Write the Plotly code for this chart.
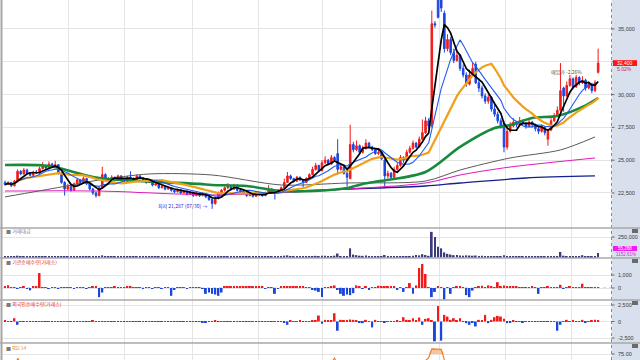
import plotly.graph_objects as go
import pandas as pd
import numpy as np

# ---------------- data ----------------
opens = [
 23300,23150,23300,23050,23350,24150,23950,24250,24000,23850,
 24100,24000,24350,24550,24400,24700,24500,24650,24000,23300,
 22800,23000,22700,23200,23500,23300,23600,23200,22800,22500,
 22300,22900,23900,23600,23500,23700,23500,23800,23600,23400,
 23700,23600,23500,23800,23650,23500,23300,23400,23100,23200,
 22900,23000,22800,22900,22700,22600,22750,22500,22650,22400,
 22550,22300,22500,22300,22450,22200,22000,21700,22100,22500,
 22700,22900,23000,22800,23100,22700,22600,22500,22300,22400,
 22250,22500,22400,22300,22500,22800,22600,22500,22700,22900,
 23300,23800,23600,23400,23700,23500,23300,23600,23900,24300,
 24600,24200,24800,25000,24700,25200,25500,24300,24500,24000,
 23600,26200,25800,26100,25600,25900,26300,26000,25800,25500,
 25600,25000,23800,24000,23700,24300,24600,25200,25000,25600,
 25900,26300,26000,26600,27100,28000,27600,35400,37200,37300,
 36200,33500,34200,33200,32600,33000,32000,31500,30800,31500,
 32300,30900,30500,29900,29500,29800,28900,28500,28000,27800,
 26000,27200,27600,27900,27700,28000,27800,27600,27900,27700,
 27400,27200,27500,26600,27300,28000,28400,28800,30500,29900,
 30700,31200,30600,31300,30900,31100,30500,30800,30300,31700]
highs = [
 23450,23400,23350,23500,24300,24250,24400,24350,24100,24200,
 24250,24500,24850,24650,24900,24800,24950,24700,24100,23400,
 23200,23100,23300,23600,23550,23750,23650,23250,22900,22600,
 23000,24500,24000,23700,23850,23750,23900,23850,23650,23800,
 24150,23700,23900,23850,23700,23550,23500,23450,23300,23250,
 23100,23050,23000,22950,22750,22850,22800,22750,22700,22650,
 22600,22600,22550,22550,22500,22250,22050,22200,22600,22800,
 23000,23250,23050,23200,23150,22800,22700,22550,22500,22450,
 22600,22550,22450,22600,23100,22850,22650,22800,23000,23600,
 24100,23900,23650,23800,23750,23550,23700,24000,24500,24800,
 24650,25000,25300,25100,25400,25300,26600,24700,24550,24100,
 27700,26400,26500,26200,26100,26600,26400,26100,25900,25900,
 25700,25100,24200,24100,24500,24800,25400,25300,25800,26100,
 26500,26400,26800,28100,28300,28200,36400,35600,37400,37400,
 36400,34600,34400,33500,33400,33100,32300,31700,31900,32400,
 32500,31200,30700,30100,30000,29900,29300,28700,28200,28000,
 27500,27900,28200,28000,28300,28100,27900,28100,28000,27800,
 27500,27700,27600,27400,28200,28600,29100,32400,30600,31000,
 31500,31300,31500,31400,31400,31200,31000,30900,31100,33500]
lows = [
 23050,23100,22950,23000,23300,23850,23900,23950,23750,23800,
 23950,23950,24300,24300,24350,24400,24450,23900,23200,22300,
 22700,22600,22650,23100,23200,23250,23100,22700,22350,22150,
 22250,22850,23500,23400,23450,23400,23450,23500,23300,23350,
 23500,23400,23450,23550,23400,23200,23250,23000,23050,22800,
 22850,22700,22750,22600,22500,22550,22400,22450,22300,22350,
 22200,22250,22200,22250,22100,21900,21287,21600,22000,22400,
 22600,22800,22700,22750,22600,22500,22400,22200,22250,22150,
 22200,22300,22200,22250,22450,22500,22000,22450,22650,22850,
 23250,23500,23300,23350,23400,22900,23250,23550,23850,24200,
 24100,24150,24700,24600,24650,24900,23900,24200,23900,23000,
 23550,25600,25700,25500,25500,25800,25900,25700,25400,25400,
 25000,23000,23600,23500,23650,24200,24500,24800,24950,25500,
 25800,25900,25950,26500,27000,27400,27500,35100,35800,36300,
 33200,33300,33000,32400,32500,31800,31300,30600,30700,31400,
 30800,30200,29700,29300,29300,28700,28300,27800,27400,25600,
 25800,27100,27500,27500,27600,27700,27400,27500,27500,27200,
 27000,27100,26900,26100,27200,27900,28300,28700,28700,29800,
 30600,30400,30500,30700,30800,30300,30400,30100,30200,31600]
closes = [
 23150,23300,23050,23400,24150,23950,24250,24000,23850,24100,
 24000,24350,24550,24400,24700,24500,24650,24000,23300,22800,
 23000,22700,23200,23500,23300,23600,23200,22800,22500,22300,
 22900,23900,23600,23500,23700,23500,23800,23600,23400,23700,
 23600,23500,23800,23650,23500,23300,23400,23100,23200,22900,
 23000,22800,22900,22700,22600,22750,22500,22650,22400,22550,
 22300,22500,22300,22450,22200,22000,21700,22100,22500,22700,
 22900,23000,22800,23100,22700,22600,22500,22300,22400,22250,
 22500,22400,22300,22500,22800,22600,22500,22700,22900,23300,
 23800,23600,23400,23700,23500,23300,23600,23900,24300,24600,
 24200,24800,25000,24700,25200,25000,24300,24500,24000,23700,
 26200,25800,26100,25600,25900,26300,26000,25800,25500,25600,
 25100,23800,24000,23700,24300,24600,25200,25000,25600,25900,
 26300,26000,26600,27100,28000,27600,35400,35300,35900,36600,
 33500,34200,33200,32600,33000,32000,31500,30800,31500,32000,
 30900,30500,29900,29500,29800,28900,28500,28000,27600,26000,
 27200,27600,27900,27700,28000,27800,27600,27900,27700,27400,
 27200,27500,27100,27300,28000,28400,28800,30300,29900,30700,
 31200,30600,31300,30900,31100,30500,30800,30300,30900,32400]

# trading value (거래대금)
volume = [
 12000,10000,9000,11000,22000,12000,11000,9000,10000,9000,
 10000,14000,12000,9000,11000,9000,10000,11000,14000,16000,
 11000,10000,9000,10000,8000,9000,8000,10000,11000,12000,
 14000,26000,12000,9000,8000,9000,10000,8000,7000,9000,
 10000,8000,9000,8000,7000,8000,7000,8000,7000,8000,
 7000,8000,7000,9000,8000,7000,8000,7000,8000,7000,
 8000,7000,8000,7000,9000,10000,14000,12000,11000,10000,
 9000,10000,8000,9000,8000,7000,8000,7000,7000,8000,
 7000,8000,7000,8000,12000,9000,10000,9000,14000,22000,
 26000,16000,12000,14000,10000,12000,11000,13000,18000,20000,
 16000,22000,20000,14000,18000,22000,48000,18000,14000,16000,
 112000,36000,28000,22000,20000,24000,16000,14000,12000,13000,
 12000,30000,16000,12000,14000,13000,16000,12000,14000,18000,
 20000,30000,26000,40000,30000,20000,313000,250000,130000,112000,
 62000,45000,36000,28000,30000,24000,22000,26000,24000,22000,
 24000,18000,20000,16000,18000,15000,14000,18000,14000,26000,
 18000,16000,14000,12000,12000,11000,10000,12000,11000,10000,
 11000,10000,12000,14000,12000,14000,16000,67000,22000,16000,
 18000,14000,16000,14000,28000,14000,12000,11000,12000,55288]

# institutional net buying (기관순매수량)
inst_net = [
 80,210,40,60,-40,50,90,-60,-180,80,
 130,1150,60,40,-30,50,40,-40,30,50,
 40,60,-30,30,50,40,-50,40,120,140,
 -700,-350,60,40,30,90,40,50,30,120,
 80,40,30,60,-40,50,30,-50,40,30,
 -40,40,30,-600,-80,40,30,40,-30,30,
 40,30,60,-30,-450,-350,-450,-500,-600,-350,
 130,150,120,100,110,90,110,80,100,120,
 100,90,120,-50,60,50,-450,-60,130,150,
 120,100,90,110,80,120,60,40,-80,-200,
 -300,-700,40,60,90,200,-100,-450,-600,-500,
 -550,-400,200,90,-60,80,-100,60,40,170,
 100,90,80,110,90,-80,50,-300,40,380,
 -450,200,1540,1850,1080,60,-700,-300,80,60,
 -900,40,-450,50,80,110,40,-550,-700,-200,
 40,80,170,60,200,80,60,450,150,200,
 120,130,100,90,60,50,70,40,90,40,
 -450,40,60,80,40,60,40,250,-60,40,
 90,60,40,30,330,60,50,40,30,20]

# foreign net buying (외국인순매수량)
foreign_net = [
 100,60,-40,500,-500,40,-60,50,-40,30,
 -50,40,60,-40,30,-60,40,50,-30,40,
 30,-40,50,-30,40,60,-40,30,80,50,
 40,-50,30,60,-40,30,-30,40,-50,30,
 40,-30,50,-40,30,-50,40,-30,30,-40,
 -60,40,-50,30,-40,50,-30,-60,40,-40,
 30,-50,40,-80,-100,30,60,200,-40,50,
 40,-30,30,-50,40,-60,30,-40,50,30,
 -50,40,-40,30,60,-40,50,-30,40,-200,
 -500,100,60,40,150,-40,60,50,80,150,
 900,-350,250,150,80,1250,-1400,250,200,150,
 300,250,80,-100,-250,250,60,-900,250,60,
 40,-80,50,-60,40,80,60,650,250,100,
 500,80,600,-500,400,500,80,-3000,2350,-2900,
 1000,750,250,500,80,500,60,-250,-500,-100,
 -750,250,80,1000,-250,250,650,850,750,400,
 -250,-100,80,-60,40,-80,60,-40,50,-60,
 40,-50,60,-40,50,30,-1400,-500,60,250,
 40,100,-50,40,250,-100,50,200,250,150]

rsi14 = [
 52,54,50,55,71.5,62,64,60,58,61,
 60,63,66,62,65,61,63,55,45,38,
 42,40,46,50,47,52,46,40,36,34,
 44,58,52,50,54,50,55,51,48,53,
 52,50,55,52,49,46,48,43,45,40,
 42,39,41,38,37,40,36,39,35,38,
 34,38,35,38,33,30,27,37,45,49,
 53,55,51,56,48,46,44,41,43,41,
 46,44,42,46,52,48,46,50,54,60,
 66,61,57,62,58,55,60,64,68,69,
 64,68,69,66,68,71.6,56,59,53,50,
 68,65,67,63,65,67,64,62,60,61,
 57,45,47,45,50,52,56,54,58,60,
 63,60,65,68,69.5,72,79.3,79.3,79.5,79,
 70,65,60,57,58,54,52,49,52,54,
 48,47,45,43,45,41,40,38,36,30,
 38,42,45,44,46,45,43,46,44,42,
 41,44,40,43,48,51,54,62,59,62,
 64,60,63,61,62,58,60,57,60,66]

# long moving averages, read at sample days
ma60_idx = [0, 14, 30, 62, 66, 77, 88, 98, 109, 114, 120, 134, 145, 156, 161, 168, 176, 184, 189]
ma60_val = [24630, 24560, 23640, 23190, 23110, 23030, 22650, 22650, 22880, 23190, 23420, 24100, 26010, 27450, 27680, 28220, 28370, 29060, 29740]
ma120_idx = [0, 18, 30, 46, 66, 88, 109, 134, 145, 161, 177, 188]
ma120_val = [22200, 22960, 23490, 23950, 23870, 23110, 23260, 23410, 24250, 25170, 25780, 26770]
ma_mag_idx = [0, 30, 66, 98, 134, 145, 161, 188]
ma_mag_val = [22650, 22650, 22350, 22650, 23260, 23870, 24480, 25170]
ma_navy_idx = [84, 109, 134, 145, 166, 188]
ma_navy_val = [22580, 22800, 23030, 23260, 23640, 23800]

month_grid = [20.1, 38.2, 59.9, 80.9, 101.3, 119.5, 138.3, 159.4, 180.4]
price_ticks = [22500, 25000, 27500, 30000, 32500, 35000]
price_ticktext = ['22,500', '25,000', '27,500', '30,000', '', '35,000']
vol_ticks, vol_ticktext = [250000], ['250,000']
inst_ticks, inst_ticktext = [0, 1000], ['0', '1,000']
frgn_ticks, frgn_ticktext = [-2500, 0, 2500], ['-2,500', '0', '2,500']
rsi_ticks, rsi_ticktext = [75], ['75.00']
last_price_text = '32,400'
last_change_text = '5.02%'
last_value_text = '55,288'
last_value_pct = '1152.61%'
low_label = '최저 21,287 (07/30) →'
low_idx, low_val = 66, 21287

# ---------------- figure ----------------
W, H = 640, 360
def fy(p):
    return 1 - p / H
def fx(p):
    return p / W

RED = '#f21b1b'
BLUE = '#1a46de'
GRID = '#e4e4e4'
FONT = 'Noto Sans CJK KR'
NUMFONT = 'Liberation Sans'

N = len(closes)
idx = np.arange(N)
cl = pd.Series(closes, dtype=float)
ma5 = cl.rolling(5, min_periods=1).mean()
ma10 = cl.rolling(10, min_periods=1).mean()
ma20 = cl.rolling(20, min_periods=1).mean()

fig = go.Figure()
fig.add_trace(go.Candlestick(
    x=idx, open=opens, high=highs, low=lows, close=closes,
    increasing=dict(line=dict(color=RED, width=1), fillcolor=RED),
    decreasing=dict(line=dict(color=BLUE, width=1), fillcolor=BLUE),
    whiskerwidth=0, xaxis='x', yaxis='y', hoverinfo='skip', showlegend=False))

for xi, yv, col, w in [
        (ma_navy_idx, ma_navy_val, '#14208c', 1.3),
        (ma_mag_idx, ma_mag_val, '#e01cc0', 1.1),
        (ma120_idx, ma120_val, '#5a5a5a', 1.0),
        (ma60_idx, ma60_val, '#178a3c', 2.6)]:
    fig.add_trace(go.Scatter(x=xi, y=yv, mode='lines',
                             line=dict(color=col, width=w, shape='spline', smoothing=0.8),
                             xaxis='x', yaxis='y', hoverinfo='skip', showlegend=False))

fig.add_trace(go.Scatter(x=idx, y=ma20, mode='lines', line=dict(color='#f0a018', width=2.2),
                         xaxis='x', yaxis='y', hoverinfo='skip', showlegend=False))
fig.add_trace(go.Scatter(x=idx, y=ma10, mode='lines', line=dict(color='#1f5cf0', width=1.1),
                         xaxis='x', yaxis='y', hoverinfo='skip', showlegend=False))
fig.add_trace(go.Scatter(x=idx, y=ma5, mode='lines', line=dict(color='#000000', width=1.7),
                         xaxis='x', yaxis='y', hoverinfo='skip', showlegend=False))

fig.add_trace(go.Bar(x=idx, y=volume, width=0.55, marker=dict(color='#3a3a7c', line=dict(width=0)),
                     xaxis='x2', yaxis='y2', hoverinfo='skip', showlegend=False))
fig.add_trace(go.Bar(x=idx, y=inst_net, width=0.62,
                     marker=dict(color=[RED if v >= 0 else BLUE for v in inst_net], line=dict(width=0)),
                     xaxis='x3', yaxis='y3', hoverinfo='skip', showlegend=False))
fig.add_trace(go.Bar(x=idx, y=foreign_net, width=0.62,
                     marker=dict(color=[RED if v >= 0 else BLUE for v in foreign_net], line=dict(width=0)),
                     xaxis='x4', yaxis='y4', hoverinfo='skip', showlegend=False))
rsi_arr = np.array(rsi14, dtype=float)
fig.add_trace(go.Scatter(x=idx, y=[75] * N, mode='lines', line=dict(width=0, color='#f08a30'),
                         xaxis='x5', yaxis='y5', hoverinfo='skip', showlegend=False))
fig.add_trace(go.Scatter(x=idx, y=np.maximum(rsi_arr, 75), mode='lines', line=dict(width=0, color='#f08a30'),
                         fill='tonexty', fillcolor='#f9c49a',
                         xaxis='x5', yaxis='y5', hoverinfo='skip', showlegend=False))
fig.add_trace(go.Scatter(x=idx, y=rsi_arr, mode='lines', line=dict(width=1.1, color='#f07a20'),
                         xaxis='x5', yaxis='y5', hoverinfo='skip', showlegend=False))

x_rng = [-0.64, 193.1]
xcommon = dict(range=x_rng, showticklabels=False, tickvals=month_grid, showgrid=True,
               gridcolor=GRID, gridwidth=1, zeroline=False, showline=False, ticks='',
               domain=[fx(3), fx(611)], fixedrange=True)
ycommon = dict(side='right', showgrid=True, gridcolor=GRID, zeroline=False, showline=False,
               ticks='', showticklabels=False, fixedrange=True)

panels = [
    ('y', [fy(228), 1], [19830, 37210], price_ticks, price_ticktext),
    ('y2', [fy(258), fy(228)], [-6100, 359800], vol_ticks, vol_ticktext),
    ('y3', [fy(300), fy(258)], [-923, 2307], inst_ticks, inst_ticktext),
    ('y4', [fy(343), fy(300)], [-3258, 3258], frgn_ticks, frgn_ticktext),
    ('y5', [0, fy(343)], [70, 84.2], rsi_ticks, rsi_ticktext),
]

layout = dict(
    width=W, height=H, margin=dict(l=0, r=0, t=0, b=0),
    paper_bgcolor='white', plot_bgcolor='white', showlegend=False,
    font=dict(family=FONT, size=5),
    xaxis=dict(xcommon, anchor='y', rangeslider=dict(visible=False)),
)
for k in range(2, 6):
    layout['xaxis%d' % k] = dict(xcommon, anchor='y%d' % k, matches='x')
for name, dom, rng, tv, tt in panels:
    key = 'yaxis' if name == 'y' else 'yaxis' + name[1:]
    xa = 'x' if name == 'y' else 'x' + name[1:]
    layout[key] = dict(ycommon, anchor=xa, domain=dom, range=rng, tickvals=tv)
fig.update_layout(**layout)

shapes = []
ann = []
# right axis strip
shapes.append(dict(type='rect', xref='paper', yref='paper', x0=fx(611.5), x1=1, y0=0, y1=1,
                   fillcolor='#d7e0ec', line=dict(width=0), layer='below'))
shapes.append(dict(type='line', xref='paper', yref='paper', x0=fx(611.5), x1=fx(611.5), y0=0, y1=1,
                   line=dict(color='#8c8c8c', width=1, dash='dot')))
# tick dashes and labels on the right
for name, dom, rng, tv, tt in panels:
    for v, t in zip(tv, tt):
        shapes.append(dict(type='line', xref='paper', yref=name, x0=fx(611.5), x1=fx(614.5), y0=v, y1=v,
                           line=dict(color='#6a6a6a', width=1)))
        if t:
            ann.append(dict(xref='paper', yref=name, x=fx(615.5), y=v, text=t, showarrow=False,
                            xanchor='left', yanchor='middle',
                            font=dict(size=5.5, color='#3a3a3a', family=NUMFONT)))
# left border
shapes.append(dict(type='line', xref='paper', yref='paper', x0=fx(1.5), x1=fx(1.5), y0=0, y1=1,
                   line=dict(color='#a6a6a6', width=2)))
# panel separators + small buttons
for yy in [228, 258, 300, 343]:
    shapes.append(dict(type='line', xref='paper', yref='paper', x0=0, x1=1, y0=fy(yy), y1=fy(yy),
                       line=dict(color='#a8a8a8', width=1.5)))
    shapes.append(dict(type='rect', xref='paper', yref='paper', x0=fx(632), x1=fx(638),
                       y0=fy(yy + 5), y1=fy(yy + 1), fillcolor='#6a6a6a', line=dict(width=0)))
# zero lines
for name in ['y3', 'y4']:
    shapes.append(dict(type='line', xref='x domain', yref=name, x0=0, x1=1, y0=0, y1=0,
                       line=dict(color='#9ab8e6', width=1, dash='dot'), layer='below'))
# last price / last value boxes
shapes.append(dict(type='rect', xref='paper', yref='y', x0=fx(613), x1=fx(637),
                   y0=closes[-1] - 220, y1=closes[-1] + 220, fillcolor='#ff1414', line=dict(width=0)))
shapes.append(dict(type='rect', xref='paper', yref='paper', x0=fx(613), x1=fx(637),
                   y0=fy(251), y1=fy(246), fillcolor='#f01cf0', line=dict(width=0)))
fig.update_layout(shapes=shapes)

def title(txt, col, ypx):
    ann.append(dict(xref='paper', yref='paper', x=fx(4), y=fy(ypx), xanchor='left', yanchor='middle',
                    showarrow=False, text="<span style='color:#7c7c7c'>■</span> " + txt,
                    font=dict(size=5, color=col, family=FONT)))
title('거래대금', '#7a7a9c', 231)
title('기관순매수량(거래소)', '#e43030', 262)
title('외국인순매수량(거래소)', '#e43030', 304)
title('RSI 14', '#f08c30', 347)

ann.append(dict(xref='paper', yref='y', x=fx(625), y=closes[-1], showarrow=False, text=last_price_text,
                font=dict(size=5, color='white', family=NUMFONT), xanchor='center', yanchor='middle'))
ann.append(dict(xref='paper', yref='paper', x=fx(615), y=fy(68.5), showarrow=False, text=last_change_text,
                font=dict(size=5, color='#b83050', family=NUMFONT), xanchor='left', yanchor='middle'))
ann.append(dict(xref='paper', yref='paper', x=fx(625), y=fy(248.5), showarrow=False, text=last_value_text,
                font=dict(size=4.5, color='white', family=NUMFONT), xanchor='center', yanchor='middle'))
ann.append(dict(xref='paper', yref='paper', x=fx(614), y=fy(254.8), showarrow=False, text=last_value_pct,
                font=dict(size=4.5, color='#e020e0', family=NUMFONT), xanchor='left', yanchor='middle'))
ann.append(dict(xref='x', yref='y', x=low_idx, y=low_val, showarrow=False, text=low_label,
                xanchor='right', yanchor='middle', xshift=-3, yshift=3,
                font=dict(size=5, color='#2a2ad0', family=FONT)))
ann.append(dict(xref='paper', yref='paper', x=fx(549), y=fy(72), showarrow=False, text='매입가 -2.26%',
                xanchor='left', yanchor='middle', font=dict(size=5, color='#555555', family=FONT)))
fig.update_layout(annotations=ann)

fig.write_html('out.html', config={'displayModeBar': False},
               post_script="document.body.style.margin='0';document.body.style.padding='0';"
                           "document.body.style.overflow='hidden';")
